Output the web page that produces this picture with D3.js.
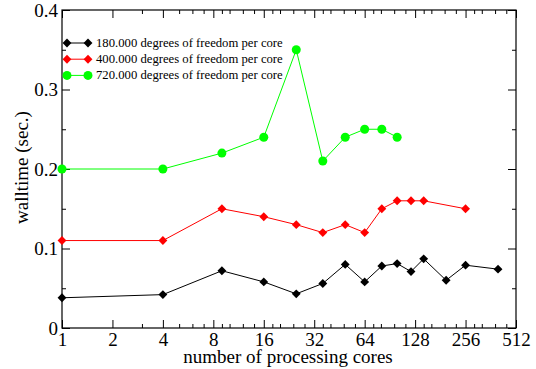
<!DOCTYPE html>
<html>
<head>
<meta charset="utf-8">
<script src="https://cdn.jsdelivr.net/npm/d3@7"></script>
<style>
  body { margin: 0; background: #fff; }
  svg text { font-family: "Times New Roman", "Liberation Serif", Times, "DejaVu Serif", serif !important; }
</style>
</head>
<body>
<div id="chart"></div>
<script>
const WIDTH = 536;
const HEIGHT = 369;
const MARGIN = {'left': 62, 'right': 20, 'top': 10, 'bottom': 41};

// Data (cores are perfect squares).
const coresBlack = [1, 4, 9, 16, 25, 36, 49, 64, 81, 100, 121, 144, 196, 256, 400];
const timeBlack  = [0.038, 0.042, 0.072, 0.058, 0.043, 0.056, 0.080, 0.058, 0.078, 0.081, 0.071, 0.087, 0.060, 0.079, 0.074];

const coresRed = [1, 4, 9, 16, 25, 36, 49, 64, 81, 100, 121, 144, 256];
const timeRed  = [0.11, 0.11, 0.15, 0.14, 0.13, 0.12, 0.13, 0.12, 0.15, 0.16, 0.16, 0.16, 0.15];

const coresGreen = [1, 4, 9, 16, 25, 36, 49, 64, 81, 100];
const timeGreen  = [0.20, 0.20, 0.22, 0.24, 0.35, 0.21, 0.24, 0.25, 0.25, 0.24];

const seriesNames = ['180.000 degrees of freedom per core',
                     '400.000 degrees of freedom per core',
                     '720.000 degrees of freedom per core'];

const xMajor = [1, 2, 4, 8, 16, 32, 64, 128, 256, 512];
const yMajor = [0, 0.1, 0.2, 0.3, 0.4];
const yMinor = [0.05, 0.15, 0.25, 0.35];

// minor ticks between powers of two
var xMinor = [];
xMajor.slice(0, -1).forEach(function (b) {
    [1.125, 1.25, 1.5, 1.75].forEach(function (m) {
        var v = b * m;
        if (Number.isInteger(v)) xMinor.push(v);
    });
});

window.onload = function () {
    var svg = d3.select("#chart").append("svg")
        .attr("width", WIDTH)
        .attr("height", HEIGHT);

    var x = d3.scaleLog().base(2).domain([1, 512]).range([MARGIN.left, WIDTH - MARGIN.right]);
    var y = d3.scaleLinear().domain([0, 0.4]).range([HEIGHT - MARGIN.bottom, MARGIN.top]);

    var x0 = MARGIN.left, x1 = WIDTH - MARGIN.right;
    var y0 = HEIGHT - MARGIN.bottom, y1 = MARGIN.top;

    function styleAxis(g) {
        g.select(".domain").remove();
        g.selectAll(".tick line").attr("stroke", "#000").attr("stroke-width", 1);
        g.selectAll(".tick text").attr("font-size", 19).attr("fill", "#000");
    }

    // bottom
    svg.append("g").attr("transform", "translate(0," + y0 + ")")
        .call(d3.axisBottom(x).tickValues(xMajor).tickFormat(d3.format("d")).tickSize(-8).tickPadding(5))
        .call(styleAxis);
    svg.append("g").attr("transform", "translate(0," + y0 + ")")
        .call(d3.axisBottom(x).tickValues(xMinor).tickFormat("").tickSize(-4))
        .call(styleAxis);
    // top
    svg.append("g").attr("transform", "translate(0," + y1 + ")")
        .call(d3.axisTop(x).tickValues(xMajor).tickFormat("").tickSize(-8))
        .call(styleAxis);
    svg.append("g").attr("transform", "translate(0," + y1 + ")")
        .call(d3.axisTop(x).tickValues(xMinor).tickFormat("").tickSize(-4))
        .call(styleAxis);
    // left
    svg.append("g").attr("transform", "translate(" + x0 + ",0)")
        .call(d3.axisLeft(y).tickValues(yMajor).tickFormat(function (d) { return d === 0 ? "0" : d3.format(".1f")(d); })
            .tickSize(-8).tickPadding(4))
        .call(styleAxis);
    svg.append("g").attr("transform", "translate(" + x0 + ",0)")
        .call(d3.axisLeft(y).tickValues(yMinor).tickFormat("").tickSize(-4))
        .call(styleAxis);
    // right
    svg.append("g").attr("transform", "translate(" + x1 + ",0)")
        .call(d3.axisRight(y).tickValues(yMajor).tickFormat("").tickSize(-8))
        .call(styleAxis);
    svg.append("g").attr("transform", "translate(" + x1 + ",0)")
        .call(d3.axisRight(y).tickValues(yMinor).tickFormat("").tickSize(-4))
        .call(styleAxis);

    // frame
    svg.append("rect")
        .attr("x", x0).attr("y", y1)
        .attr("width", x1 - x0).attr("height", y0 - y1)
        .attr("fill", "none").attr("stroke", "#000").attr("stroke-width", 1.2);

    // axis labels
    svg.append("text")
        .attr("x", (x0 + x1) / 2 - 1).attr("y", 362.5)
        .attr("text-anchor", "middle").attr("font-size", 19)
        .text("number of processing cores");
    svg.append("text")
        .attr("transform", "translate(28,167.5) rotate(-90)")
        .attr("text-anchor", "middle").attr("font-size", 19)
        .text("walltime (sec.)");

    var series = [
        {cores: coresBlack, time: timeBlack, color: "#000000", marker: "diamond"},
        {cores: coresRed, time: timeRed, color: "#ff0000", marker: "diamond"},
        {cores: coresGreen, time: timeGreen, color: "#00ff00", marker: "circle"}
    ];

    var line = d3.line().x(function (d) { return x(d[0]); }).y(function (d) { return y(d[1]); });
    var diamond = d3.symbol().type(d3.symbolDiamond2).size(50);

    function drawMarker(g, m, px, py, color) {
        if (m === "circle") {
            g.append("circle").attr("cx", px).attr("cy", py).attr("r", 4.5).attr("fill", color);
        } else {
            g.append("path").attr("d", diamond()).attr("transform", "translate(" + px + "," + py + ")")
                .attr("fill", color);
        }
    }

    series.forEach(function (s) {
        var pts = d3.zip(s.cores, s.time);
        var g = svg.append("g");
        g.append("path").datum(pts).attr("d", line)
            .attr("fill", "none").attr("stroke", s.color).attr("stroke-width", 1);
        pts.forEach(function (p) { drawMarker(g, s.marker, x(p[0]), y(p[1]), s.color); });
    });

    // legend
    var legend = svg.append("g");
    series.forEach(function (s, i) {
        var ly = 43 + i * 16.2;
        legend.append("line").attr("x1", 67).attr("x2", 88).attr("y1", ly).attr("y2", ly)
            .attr("stroke", s.color).attr("stroke-width", 1);
        drawMarker(legend, s.marker, 67, ly, s.color);
        drawMarker(legend, s.marker, 88, ly, s.color);
        legend.append("text").attr("x", 96).attr("y", ly + 4)
            .attr("font-size", 12.7).text(seriesNames[i]);
    });
};
</script>
</body>
</html>
